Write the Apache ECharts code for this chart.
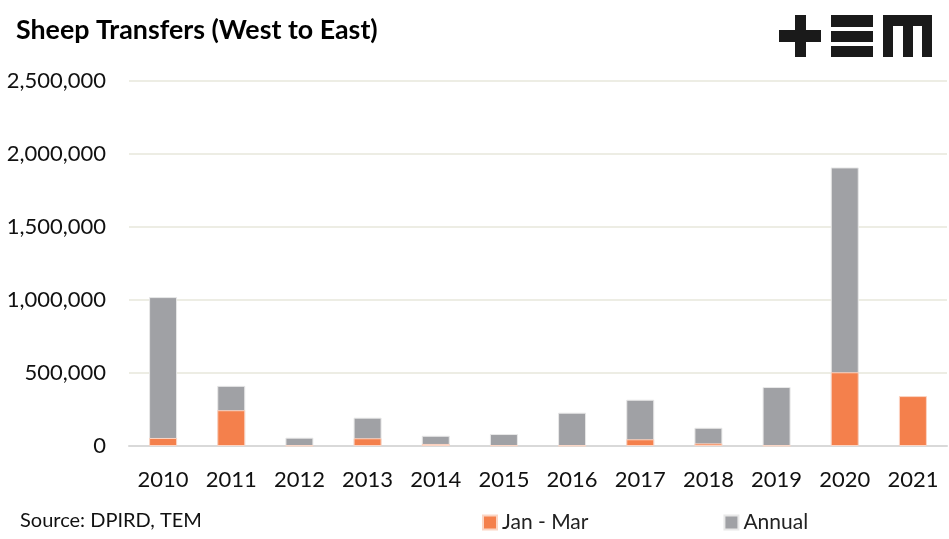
<!DOCTYPE html>
<html>
<head>
<meta charset="utf-8">
<script src="https://cdn.jsdelivr.net/npm/echarts@6/dist/echarts.min.js"></script>
<style>
html,body{margin:0;padding:0;background:#fff;}
#chart{width:949px;height:539px;}
</style>
</head>
<body>
<div id="chart"></div>
<script>
var categories = ['2010','2011','2012','2013','2014','2015','2016','2017','2018','2019','2020','2021'];
var janMar = [55000, 245000, 3000, 53000, 14000, 5000, 3000, 46000, 18000, 3000, 505000, 342000];
var annual = [1020000, 412000, 57000, 194000, 70000, 82000, 228000, 317000, 125000, 404000, 1908000, null];
var yTicks = {min: 0, max: 2500000, interval: 500000};

var FONT = 'Lato';
var chart = echarts.init(document.getElementById('chart'));
function fmt(v){ return String(v).replace(/\B(?=(\d{3})+(?!\d))/g, ','); }
chart.setOption({
  animation: false,
  backgroundColor: '#fff',
  textStyle: {fontFamily: FONT},
  title: {
    text: 'Sheep Transfers (West to East)',
    left: 11, top: 12,
    textStyle: {fontFamily: FONT, fontSize: 26.8, fontWeight: 'bold', color: '#000'}
  },
  legend: {
    data: ['Jan - Mar', 'Annual'],
    left: 477, top: 507,
    itemWidth: 14, itemHeight: 14, itemGap: 135,
    icon: 'rect',
    textStyle: {fontFamily: FONT, fontSize: 21, color: '#222'}
  },
  grid: {left: 129, right: 2, top: 81, bottom: 93},
  xAxis: {
    type: 'category',
    data: categories,
    axisTick: {show: false},
    axisLine: {lineStyle: {color: '#d9d9d9', width: 2}},
    axisLabel: {fontFamily: FONT, fontSize: 22, color: '#111', margin: 23}
  },
  yAxis: {
    type: 'value',
    min: yTicks.min, max: yTicks.max, interval: yTicks.interval,
    axisLine: {show: false},
    axisTick: {show: false},
    splitLine: {lineStyle: {color: '#ededE4', width: 2}},
    axisLabel: {fontFamily: FONT, fontSize: 22, color: '#111', margin: 23, formatter: fmt}
  },
  series: [
    {
      name: 'Annual', type: 'bar', data: annual, barWidth: 28,
      itemStyle: {color: '#A0A1A5', borderColor: '#e8e8e8', borderWidth: 1}
    },
    {
      name: 'Jan - Mar', type: 'bar', data: janMar, barWidth: 28, barGap: '-100%',
      itemStyle: {color: '#F4804C', borderColor: '#fbd5c4', borderWidth: 1}
    }
  ],
  graphic: [
    {type: 'text', left: 20, top: 511, style: {text: 'Source: DPIRD, TEM', font: '20px Lato', fill: '#111'}},
    {type: 'group', left: 779, top: 15, children: [
      {type: 'rect', shape: {x: 0, y: 15, width: 42, height: 12}, style: {fill: '#1a1a1a'}},
      {type: 'rect', shape: {x: 16, y: 0, width: 11, height: 42}, style: {fill: '#1a1a1a'}},
      {type: 'rect', shape: {x: 52, y: 0, width: 42, height: 12}, style: {fill: '#1a1a1a'}},
      {type: 'rect', shape: {x: 52, y: 16, width: 42, height: 11}, style: {fill: '#1a1a1a'}},
      {type: 'rect', shape: {x: 52, y: 31, width: 42, height: 11}, style: {fill: '#1a1a1a'}},
      {type: 'rect', shape: {x: 104, y: 0, width: 49, height: 11}, style: {fill: '#1a1a1a'}},
      {type: 'rect', shape: {x: 104, y: 0, width: 10, height: 42}, style: {fill: '#1a1a1a'}},
      {type: 'rect', shape: {x: 124, y: 0, width: 10, height: 42}, style: {fill: '#1a1a1a'}},
      {type: 'rect', shape: {x: 143, y: 0, width: 10, height: 42}, style: {fill: '#1a1a1a'}}
    ]}
  ]
});
</script>
</body>
</html>
